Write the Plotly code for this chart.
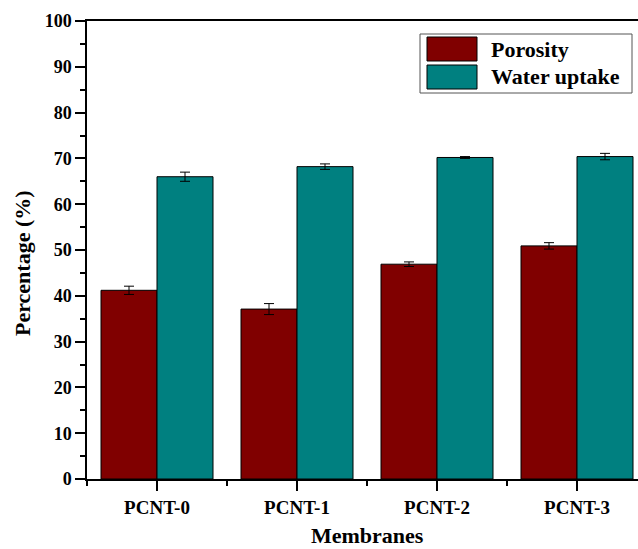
import plotly.graph_objects as go

categories = ["PCNT-0", "PCNT-1", "PCNT-2", "PCNT-3"]
porosity = [41.2, 37.1, 46.9, 50.9]
porosity_err = [0.9, 1.2, 0.5, 0.7]
water_uptake = [66.0, 68.2, 70.2, 70.4]
water_err = [1.0, 0.6, 0.2, 0.7]
yticks = [0, 10, 20, 30, 40, 50, 60, 70, 80, 90, 100]

x = list(range(len(categories)))
FONT = "Liberation Serif"
RED = "#800000"
TEAL = "#008080"

fig = go.Figure()
fig.add_trace(go.Bar(
    x=x, y=porosity, name="Porosity", marker=dict(color=RED, line=dict(color="black", width=1)),
    error_y=dict(type="data", array=porosity_err, color="black", thickness=1, width=5),
    showlegend=False,
))
fig.add_trace(go.Bar(
    x=x, y=water_uptake, name="Water uptake", marker=dict(color=TEAL, line=dict(color="black", width=1)),
    error_y=dict(type="data", array=water_err, color="black", thickness=1, width=5),
    showlegend=False,
))

W, H = 638, 549
L, T, B = 87, 21, 479
PW, PH = W - L, B - T

def fx(v):
    return (v - L) / PW

def fy(v):
    return (B - v) / PH

# custom legend (large swatches like the reference)
legend_items = [("Porosity", RED), ("Water uptake", TEAL)]
fig.add_shape(type="rect", xref="paper", yref="paper", x0=fx(420), x1=fx(632),
              y0=fy(93), y1=fy(34), line=dict(color="#555", width=1), fillcolor="white")
for i, (name, col) in enumerate(legend_items):
    top = 37 + i * 28
    fig.add_shape(type="rect", xref="paper", yref="paper",
                  x0=fx(427), x1=fx(477), y0=fy(top + 24), y1=fy(top),
                  line=dict(color="black", width=1), fillcolor=col)
    fig.add_annotation(xref="paper", yref="paper", x=fx(489), y=fy(top + 12),
                       text="<b>%s</b>" % name, showarrow=False, xanchor="left", yanchor="middle",
                       font=dict(family=FONT, size=22, color="black"))

# axis titles
fig.add_annotation(xref="paper", yref="paper", x=fx(367), y=fy(535),
                   text="<b>Membranes</b>", showarrow=False, xanchor="center", yanchor="middle",
                   font=dict(family=FONT, size=22, color="black"))
fig.add_annotation(xref="paper", yref="paper", x=fx(22), y=fy(263),
                   text="<b>Percentage (%)</b>", showarrow=False, xanchor="center", yanchor="middle",
                   textangle=-90, font=dict(family=FONT, size=22, color="black"))

fig.update_layout(
    width=W, height=H,
    margin=dict(l=L, r=0, t=T, b=H - B, autoexpand=False),
    plot_bgcolor="white", paper_bgcolor="white",
    barmode="group", bargap=0.2, bargroupgap=0,
    font=dict(family=FONT, color="black"),
)
fig.update_xaxes(
    range=[-0.5, 3.5 - 9/140], tickvals=x, ticktext=["<b>%s</b>" % c for c in categories],
    ticks="outside", ticklen=10, tickwidth=1.5, tickcolor="black",
    showline=True, linecolor="black", linewidth=1.5, mirror=True,
    showgrid=False, zeroline=False,
    tickfont=dict(family=FONT, size=19, color="black"),
    minor=dict(tickvals=[-0.5, 0.5, 1.5, 2.5, 3.5], ticks="outside", ticklen=5, tickwidth=1.5, tickcolor="black", showgrid=False),
)
fig.update_yaxes(
    range=[0, 100], tickvals=yticks, ticktext=["<b>%d</b>" % v for v in yticks],
    ticks="outside", ticklen=10, tickwidth=1.5, tickcolor="black",
    showline=True, linecolor="black", linewidth=1.5,
    showgrid=False, zeroline=False,
    tickfont=dict(family=FONT, size=18, color="black"),
    minor=dict(dtick=5, ticks="outside", ticklen=5, tickwidth=1.5, tickcolor="black", showgrid=False),
)

fig.write_html("out.html", config={"displayModeBar": False},
               post_script="document.body.style.margin='0';document.body.style.overflow='hidden';")
